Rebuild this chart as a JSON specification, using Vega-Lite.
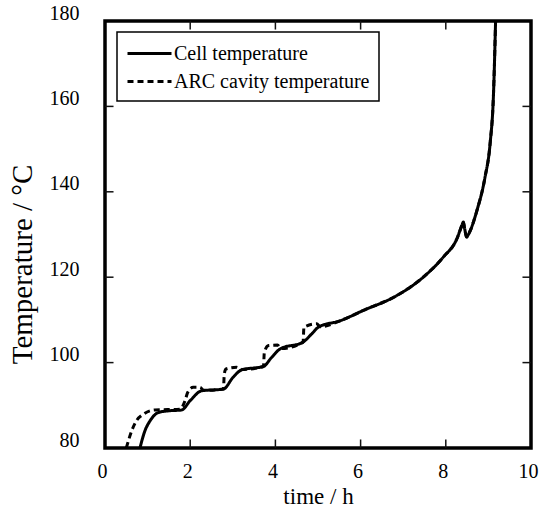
{
  "$schema": "https://vega.github.io/schema/vega-lite/v6.json",
  "width": 426,
  "height": 427,
  "autosize": "none",
  "padding": {"left": 105, "top": 21, "right": 9, "bottom": 59},
  "background": "white",
  "config": {
    "font": "Liberation Serif",
    "view": {"stroke": "black", "strokeWidth": 3.5},
    "axis": {
      "domain": false, "grid": false,
      "labelFont": "Liberation Serif", "labelFontSize": 20, "labelColor": "black",
      "labelFlush": false, "labelOverlap": false,
      "titleFont": "Liberation Serif", "titleFontSize": 23, "titleFontWeight": "normal", "titleColor": "black"
    },
    "legend": {
      "orient": "none", "legendX": 12, "legendY": 11,
      "strokeColor": "black", "strokeWidth": 1.5, "fillColor": "white",
      "padding": 9, "rowPadding": 5,
      "labelFont": "Liberation Serif", "labelFontSize": 20, "labelColor": "black", "labelLimit": 400,
      "labelOffset": 12, "symbolOffset": 11,
      "symbolType": "M-2,0H2", "symbolSize": 484, "symbolStrokeWidth": 3, "symbolStrokeColor": "black"
    }
  },
  "datasets": {
    "xticks": [{"v": 2}, {"v": 4}, {"v": 6}, {"v": 8}],
    "yticks": [{"v": 100}, {"v": 120}, {"v": 140}, {"v": 160}]
  },
  "data": {"values": [
    {"t": 0.5, "T": 80.0, "s": "ARC cavity temperature"},
    {"t": 0.63, "T": 84.1, "s": "ARC cavity temperature"},
    {"t": 0.74, "T": 86.4, "s": "ARC cavity temperature"},
    {"t": 0.9, "T": 87.9, "s": "ARC cavity temperature"},
    {"t": 1.17, "T": 88.9, "s": "ARC cavity temperature"},
    {"t": 1.76, "T": 89.1, "s": "ARC cavity temperature"},
    {"t": 1.88, "T": 91.1, "s": "ARC cavity temperature"},
    {"t": 1.94, "T": 93.0, "s": "ARC cavity temperature"},
    {"t": 2.07, "T": 94.2, "s": "ARC cavity temperature"},
    {"t": 2.23, "T": 94.2, "s": "ARC cavity temperature"},
    {"t": 2.32, "T": 93.5, "s": "ARC cavity temperature"},
    {"t": 2.78, "T": 93.8, "s": "ARC cavity temperature"},
    {"t": 2.8, "T": 97.3, "s": "ARC cavity temperature"},
    {"t": 2.84, "T": 98.5, "s": "ARC cavity temperature"},
    {"t": 3.09, "T": 98.9, "s": "ARC cavity temperature"},
    {"t": 3.21, "T": 98.4, "s": "ARC cavity temperature"},
    {"t": 3.72, "T": 99.1, "s": "ARC cavity temperature"},
    {"t": 3.74, "T": 102.4, "s": "ARC cavity temperature"},
    {"t": 3.84, "T": 104.0, "s": "ARC cavity temperature"},
    {"t": 4.05, "T": 104.1, "s": "ARC cavity temperature"},
    {"t": 4.13, "T": 103.3, "s": "ARC cavity temperature"},
    {"t": 4.65, "T": 104.8, "s": "ARC cavity temperature"},
    {"t": 4.67, "T": 108.3, "s": "ARC cavity temperature"},
    {"t": 4.97, "T": 109.1, "s": "ARC cavity temperature"},
    {"t": 5.05, "T": 108.4, "s": "ARC cavity temperature"},
    {"t": 5.52, "T": 109.8, "s": "ARC cavity temperature"},
    {"t": 6.06, "T": 112.2, "s": "ARC cavity temperature"},
    {"t": 6.85, "T": 115.7, "s": "ARC cavity temperature"},
    {"t": 7.47, "T": 120.0, "s": "ARC cavity temperature"},
    {"t": 7.94, "T": 124.7, "s": "ARC cavity temperature"},
    {"t": 8.26, "T": 129.0, "s": "ARC cavity temperature"},
    {"t": 8.38, "T": 132.2, "s": "ARC cavity temperature"},
    {"t": 8.41, "T": 132.9, "s": "ARC cavity temperature"},
    {"t": 8.44, "T": 131.5, "s": "ARC cavity temperature"},
    {"t": 8.49, "T": 129.4, "s": "ARC cavity temperature"},
    {"t": 8.53, "T": 130.0, "s": "ARC cavity temperature"},
    {"t": 8.73, "T": 135.6, "s": "ARC cavity temperature"},
    {"t": 8.92, "T": 143.4, "s": "ARC cavity temperature"},
    {"t": 9.04, "T": 151.3, "s": "ARC cavity temperature"},
    {"t": 9.12, "T": 163.0, "s": "ARC cavity temperature"},
    {"t": 9.17, "T": 180.5, "s": "ARC cavity temperature"},
    {"t": 0.82, "T": 80.0, "s": "Cell temperature"},
    {"t": 0.94, "T": 84.1, "s": "Cell temperature"},
    {"t": 1.06, "T": 86.4, "s": "Cell temperature"},
    {"t": 1.25, "T": 88.3, "s": "Cell temperature"},
    {"t": 1.49, "T": 88.7, "s": "Cell temperature"},
    {"t": 1.8, "T": 88.9, "s": "Cell temperature"},
    {"t": 2.0, "T": 91.1, "s": "Cell temperature"},
    {"t": 2.27, "T": 93.4, "s": "Cell temperature"},
    {"t": 2.78, "T": 93.8, "s": "Cell temperature"},
    {"t": 3.01, "T": 96.6, "s": "Cell temperature"},
    {"t": 3.21, "T": 98.3, "s": "Cell temperature"},
    {"t": 3.72, "T": 99.1, "s": "Cell temperature"},
    {"t": 3.91, "T": 101.2, "s": "Cell temperature"},
    {"t": 4.11, "T": 103.2, "s": "Cell temperature"},
    {"t": 4.65, "T": 104.8, "s": "Cell temperature"},
    {"t": 4.85, "T": 106.7, "s": "Cell temperature"},
    {"t": 5.01, "T": 108.3, "s": "Cell temperature"},
    {"t": 5.52, "T": 109.8, "s": "Cell temperature"},
    {"t": 6.06, "T": 112.2, "s": "Cell temperature"},
    {"t": 6.85, "T": 115.7, "s": "Cell temperature"},
    {"t": 7.47, "T": 120.0, "s": "Cell temperature"},
    {"t": 7.94, "T": 124.7, "s": "Cell temperature"},
    {"t": 8.26, "T": 129.0, "s": "Cell temperature"},
    {"t": 8.38, "T": 132.2, "s": "Cell temperature"},
    {"t": 8.41, "T": 132.9, "s": "Cell temperature"},
    {"t": 8.44, "T": 131.5, "s": "Cell temperature"},
    {"t": 8.49, "T": 129.4, "s": "Cell temperature"},
    {"t": 8.53, "T": 130.0, "s": "Cell temperature"},
    {"t": 8.73, "T": 135.6, "s": "Cell temperature"},
    {"t": 8.92, "T": 143.4, "s": "Cell temperature"},
    {"t": 9.04, "T": 151.3, "s": "Cell temperature"},
    {"t": 9.12, "T": 163.0, "s": "Cell temperature"},
    {"t": 9.17, "T": 180.5, "s": "Cell temperature"}
  ]},
  "layer": [
    {
      "transform": [{"filter": "datum.s === 'ARC cavity temperature'"}],
      "mark": {"type": "line", "color": "black", "strokeWidth": 3, "clip": true, "interpolate": "monotone"},
      "encoding": {
        "x": {"field": "t", "type": "quantitative", "scale": {"domain": [0, 10], "nice": false, "zero": false}, "axis": null},
        "y": {"field": "T", "type": "quantitative", "scale": {"domain": [80, 180], "nice": false, "zero": false}, "axis": null},
        "strokeDash": {"field": "s", "type": "nominal", "scale": {"domain": ["Cell temperature", "ARC cavity temperature"], "range": [[1, 0], [6, 4]]}, "legend": {"title": null}},
        "order": {"field": "t", "type": "quantitative"}
      }
    },
    {
      "transform": [{"filter": "datum.s === 'Cell temperature'"}],
      "mark": {"type": "line", "color": "black", "strokeWidth": 3, "clip": true, "interpolate": "monotone"},
      "encoding": {
        "x": {"field": "t", "type": "quantitative", "axis": {"orient": "bottom", "values": [0, 2, 4, 6, 8, 10], "ticks": true, "tickSize": -7, "tickOpacity": 0, "labelOffset": -3, "labelPadding": 20, "title": "time / h", "titlePadding": 4}},
        "y": {"field": "T", "type": "quantitative", "axis": {"orient": "left", "values": [80, 100, 120, 140, 160, 180], "ticks": true, "tickSize": 7, "offset": -7, "tickOpacity": 0, "labelOffset": -8, "labelPadding": 26, "title": "Temperature / °C", "titleFontSize": 29, "titleX": -90, "titleY": 243, "titleAngle": -90, "titleAlign": "center", "titleBaseline": "middle"}},
        "strokeDash": {"field": "s", "type": "nominal"},
        "order": {"field": "t", "type": "quantitative"}
      }
    },
    {
      "data": {"name": "xticks"},
      "mark": {"type": "rule", "color": "#111", "strokeWidth": 1.5},
      "encoding": {
        "x": {"field": "v", "type": "quantitative", "axis": null},
        "y": {"datum": 80, "type": "quantitative", "axis": null},
        "y2": {"datum": 82}
      }
    },
    {
      "data": {"name": "xticks"},
      "mark": {"type": "rule", "color": "#111", "strokeWidth": 1.5},
      "encoding": {
        "x": {"field": "v", "type": "quantitative", "axis": null},
        "y": {"datum": 178, "type": "quantitative", "axis": null},
        "y2": {"datum": 180}
      }
    },
    {
      "data": {"name": "yticks"},
      "mark": {"type": "rule", "color": "#111", "strokeWidth": 1.5},
      "encoding": {
        "y": {"field": "v", "type": "quantitative", "axis": null},
        "x": {"datum": 0, "type": "quantitative", "axis": null},
        "x2": {"datum": 0.2}
      }
    },
    {
      "data": {"name": "yticks"},
      "mark": {"type": "rule", "color": "#111", "strokeWidth": 1.5},
      "encoding": {
        "y": {"field": "v", "type": "quantitative", "axis": null},
        "x": {"datum": 9.8, "type": "quantitative", "axis": null},
        "x2": {"datum": 10}
      }
    }
  ],
  "resolve": {"axis": {"x": "independent", "y": "independent"}}
}
